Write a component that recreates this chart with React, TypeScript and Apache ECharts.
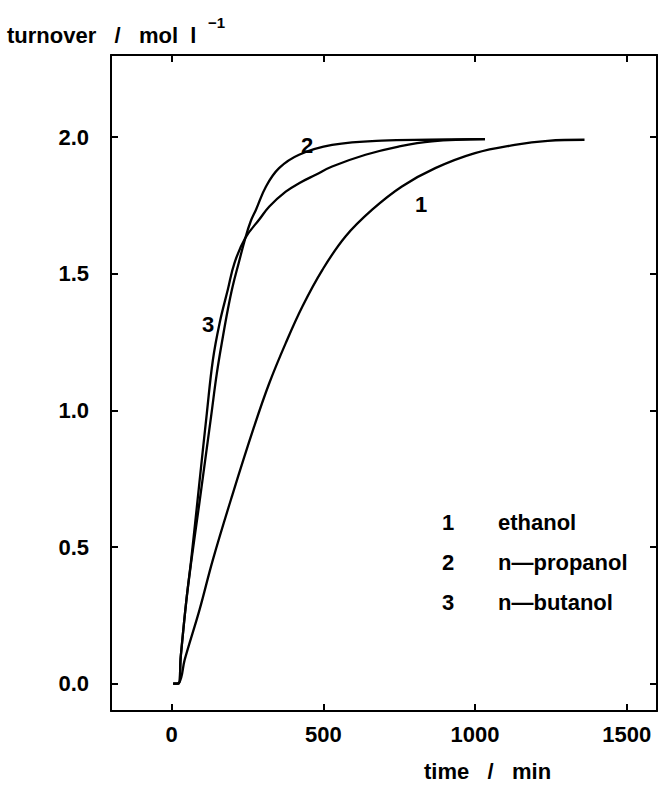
import { useEffect, useRef } from 'react';
import * as echarts from 'echarts';

// time / min and turnover / mol l^-1
const ethanolTime = [5, 25, 43, 92, 136, 200, 272, 322, 376, 431, 497, 573, 661, 759, 869, 1000, 1131, 1240, 1361];
const ethanolTurnover = [0, 0.005, 0.088, 0.271, 0.454, 0.69, 0.941, 1.1, 1.246, 1.38, 1.514, 1.636, 1.734, 1.819, 1.886, 1.941, 1.971, 1.986, 1.99];

const propanolTime = [5, 22, 30, 48, 65, 90, 130, 149, 169, 185, 201, 221, 243, 260, 278, 311, 354, 420, 529, 693, 850, 1033];
const propanolTurnover = [0, 0, 0.1, 0.3, 0.45, 0.65, 0.978, 1.136, 1.27, 1.368, 1.453, 1.539, 1.631, 1.69, 1.734, 1.819, 1.886, 1.935, 1.971, 1.987, 1.99, 1.992];

const butanolTime = [5, 22, 30, 48, 65, 90, 116, 136, 158, 185, 207, 243, 290, 322, 376, 420, 475, 529, 639, 748, 858, 1033];
const butanolTurnover = [0, 0, 0.1, 0.3, 0.46, 0.72, 0.99, 1.185, 1.319, 1.441, 1.539, 1.631, 1.7, 1.746, 1.8, 1.831, 1.862, 1.892, 1.935, 1.965, 1.984, 1.992];

const xTicks = [0, 500, 1000, 1500];
const yTicks = [0, 0.5, 1.0, 1.5, 2.0];
const legendNumbers = ['1', '2', '3'];
const legendNames = ['ethanol', 'n\u2014propanol', 'n\u2014butanol'];
const curveLabels = ['1', '2', '3'];

const FONT = "'Liberation Sans', Arial, sans-serif";

function pairs(xs: number[], ys: number[]) {
  return xs.map((x, i) => [x, ys[i]]);
}

export default function App() {
  const ref = useRef<HTMLDivElement>(null);
  useEffect(() => {
    const chart = echarts.init(ref.current!, null, { renderer: 'svg' });
    const axisText = { color: '#000', fontSize: 22, fontWeight: 'bold' as const, fontFamily: FONT };
    const lineCommon = {
      type: 'line' as const,
      smooth: 0.4,
      showSymbol: false,
      symbol: 'none',
      lineStyle: { color: '#000', width: 2.3 },
      silent: true,
    };
    const nb = '\u00A0\u00A0\u00A0';
    const txt = (text: string, x: number, y: number, align = 'left', size = 22) => ({
      type: 'text',
      x,
      y,
      style: {
        text,
        fill: '#000',
        font: `bold ${size}px ${FONT}`,
        align,
        verticalAlign: 'middle',
        textAlign: align,
        textVerticalAlign: 'middle',
      },
    });
    const graphics: any[] = [
      txt(`turnover${nb}/${nb}mol\u00A0\u00A0l`, 7, 35),
      txt('\u22121', 208, 22, 'left', 15),
      txt(`time${nb}/${nb}min`, 424, 771),
      txt(curveLabels[1], 307, 145, 'center'),
      txt(curveLabels[0], 421, 204, 'center'),
      txt(curveLabels[2], 208, 324, 'center'),
    ];
    legendNumbers.forEach((n, i) => {
      graphics.push(txt(n, 448, 522 + i * 40, 'center'));
      graphics.push(txt(legendNames[i], 498, 522 + i * 40, 'left'));
    });

    const xBase = {
      type: 'value' as const,
      min: -200,
      max: 1600,
      splitLine: { show: false },
      axisLine: { show: true, onZero: false, lineStyle: { color: '#000', width: 2 } },
      axisTick: { show: true, inside: true, length: 7, customValues: xTicks, lineStyle: { color: '#000', width: 2 } },
    };
    const yBase = {
      type: 'value' as const,
      min: -0.1,
      max: 2.3,
      splitLine: { show: false },
      axisLine: { show: true, onZero: false, lineStyle: { color: '#000', width: 2 } },
      axisTick: { show: true, inside: true, length: 7, customValues: yTicks, lineStyle: { color: '#000', width: 2 } },
    };

    chart.setOption({
      animation: false,
      backgroundColor: '#fff',
      grid: { left: 111, top: 55, width: 546, height: 656, containLabel: false },
      xAxis: [
        {
          ...xBase,
          position: 'bottom',
          axisLabel: { ...axisText, margin: 12, customValues: xTicks, formatter: (v: number) => String(v) },
        },
        { ...xBase, position: 'top', axisLabel: { show: false } },
      ],
      yAxis: [
        {
          ...yBase,
          position: 'left',
          axisLabel: { ...axisText, margin: 22, customValues: yTicks, formatter: (v: number) => v.toFixed(1) },
        },
        { ...yBase, position: 'right', axisLabel: { show: false } },
      ],
      series: [
        { ...lineCommon, name: 'ethanol', data: pairs(ethanolTime, ethanolTurnover) },
        { ...lineCommon, name: 'n-propanol', data: pairs(propanolTime, propanolTurnover) },
        { ...lineCommon, name: 'n-butanol', data: pairs(butanolTime, butanolTurnover) },
      ],
      graphic: graphics,
    });
    return () => chart.dispose();
  }, []);
  return (
    <div
      ref={ref}
      style={{ position: 'absolute', left: 0, top: 0, width: 659, height: 785, background: '#fff' }}
    />
  );
}
